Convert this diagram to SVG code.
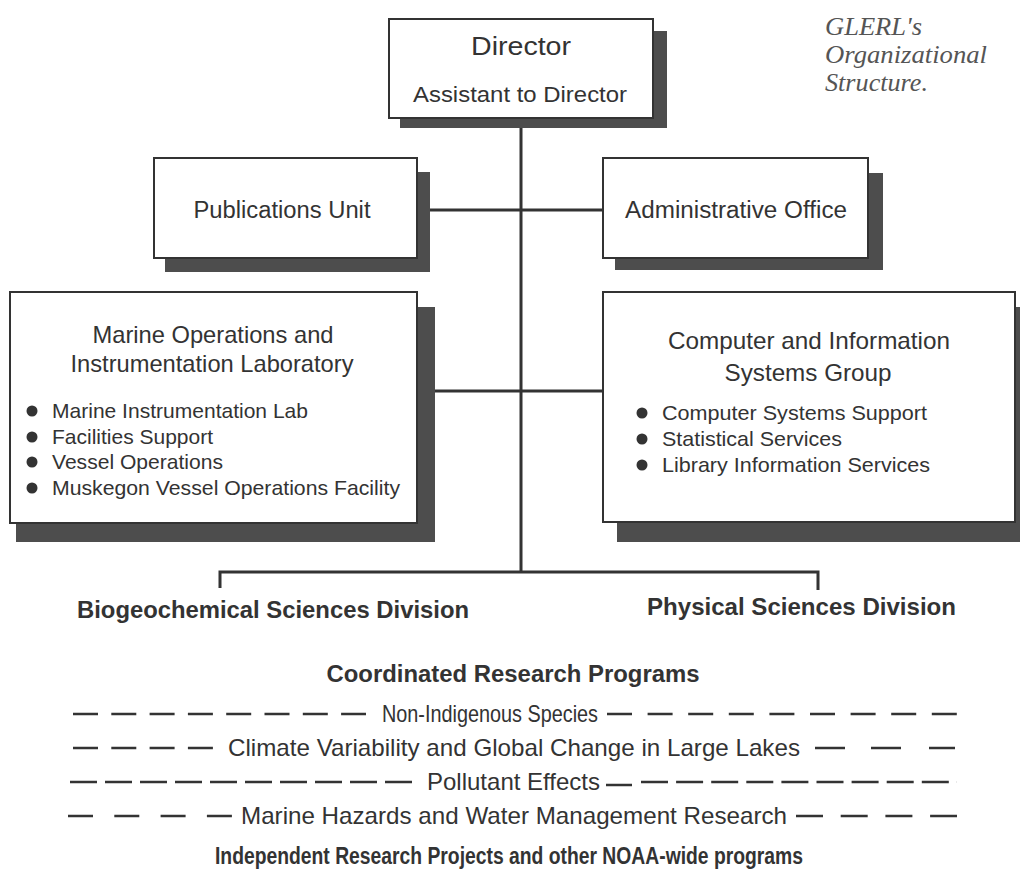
<svg xmlns="http://www.w3.org/2000/svg" width="1020" height="872" viewBox="0 0 1020 872">
<style>
.bg{fill:#ffffff}
.box{fill:#ffffff;stroke:#333333;stroke-width:2}
.sh{fill:#4d4d4d}
.t{font-family:"Liberation Sans",Arial,sans-serif;fill:#333333}
.c{text-anchor:middle}
.b{font-weight:bold}
.it{font-family:"Liberation Serif","Times New Roman",serif;font-style:italic;fill:#555555;font-size:25px}
.ln{stroke:#333333;stroke-width:3;fill:none}
.ds{stroke:#333333;stroke-width:2.5;fill:none}
.dot{fill:#333333}
</style>
<rect class="bg" x="0" y="0" width="1020" height="872"/>

<g id="connectors">
  <line class="ln" x1="521" y1="118" x2="521" y2="573"/>
  <line class="ln" x1="417" y1="210" x2="603" y2="210"/>
  <line class="ln" x1="417" y1="391" x2="603" y2="391"/>
  <path class="ln" d="M220,588 V572 H818 V590"/>
</g>

<g id="title">
  <text class="it" x="825" y="35" textLength="97" lengthAdjust="spacingAndGlyphs">GLERL's</text>
  <text class="it" x="825" y="63" textLength="162" lengthAdjust="spacingAndGlyphs">Organizational</text>
  <text class="it" x="825" y="91" textLength="103" lengthAdjust="spacingAndGlyphs">Structure.</text>
</g>

<g id="director">
  <rect class="sh" x="400" y="31" width="267" height="97"/>
  <rect class="box" x="389" y="19" width="264" height="99"/>
  <text class="t c" x="521" y="55" font-size="26" textLength="100" lengthAdjust="spacingAndGlyphs">Director</text>
  <text class="t c" x="520" y="102" font-size="22" textLength="214" lengthAdjust="spacingAndGlyphs">Assistant to Director</text>
</g>

<g id="publications">
  <rect class="sh" x="165" y="172" width="265" height="100"/>
  <rect class="box" x="154" y="158" width="263" height="100"/>
  <text class="t c" x="282" y="218" font-size="23" textLength="177" lengthAdjust="spacingAndGlyphs">Publications Unit</text>
</g>

<g id="admin">
  <rect class="sh" x="615" y="173" width="268" height="97"/>
  <rect class="box" x="603" y="158" width="265" height="100"/>
  <text class="t c" x="736" y="218" font-size="23" textLength="222" lengthAdjust="spacingAndGlyphs">Administrative Office</text>
</g>

<g id="marine">
  <rect class="sh" x="16" y="307" width="419" height="235"/>
  <rect class="box" x="10" y="292" width="407" height="231"/>
  <text class="t c" x="213" y="343" font-size="24" textLength="241" lengthAdjust="spacingAndGlyphs">Marine Operations and</text>
  <text class="t c" x="212" y="372" font-size="24" textLength="283" lengthAdjust="spacingAndGlyphs">Instrumentation Laboratory</text>
  <circle class="dot" cx="32" cy="411" r="5.5"/>
  <circle class="dot" cx="32" cy="437" r="5.5"/>
  <circle class="dot" cx="32" cy="462" r="5.5"/>
  <circle class="dot" cx="32" cy="488" r="5.5"/>
  <text class="t" x="52" y="418" font-size="21" textLength="256" lengthAdjust="spacingAndGlyphs">Marine Instrumentation Lab</text>
  <text class="t" x="52" y="444" font-size="21" textLength="161" lengthAdjust="spacingAndGlyphs">Facilities Support</text>
  <text class="t" x="52" y="469" font-size="21" textLength="171" lengthAdjust="spacingAndGlyphs">Vessel Operations</text>
  <text class="t" x="52" y="495" font-size="21" textLength="348" lengthAdjust="spacingAndGlyphs">Muskegon Vessel Operations Facility</text>
</g>

<g id="computer">
  <rect class="sh" x="617" y="307" width="403" height="235"/>
  <rect class="box" x="603" y="292" width="412" height="230"/>
  <text class="t c" x="809" y="349" font-size="24" textLength="282" lengthAdjust="spacingAndGlyphs">Computer and Information</text>
  <text class="t c" x="808" y="381" font-size="24" textLength="167" lengthAdjust="spacingAndGlyphs">Systems Group</text>
  <circle class="dot" cx="642" cy="413" r="5.5"/>
  <circle class="dot" cx="642" cy="439" r="5.5"/>
  <circle class="dot" cx="642" cy="465" r="5.5"/>
  <text class="t" x="662" y="420" font-size="21" textLength="265" lengthAdjust="spacingAndGlyphs">Computer Systems Support</text>
  <text class="t" x="662" y="446" font-size="21" textLength="180" lengthAdjust="spacingAndGlyphs">Statistical Services</text>
  <text class="t" x="662" y="472" font-size="21" textLength="268" lengthAdjust="spacingAndGlyphs">Library Information Services</text>
</g>

<g id="biogeochemical">
  <text class="t b" x="77" y="618" font-size="24" textLength="392" lengthAdjust="spacingAndGlyphs">Biogeochemical Sciences Division</text>
</g>
<g id="physical">
  <text class="t b" x="647" y="615" font-size="24" textLength="309" lengthAdjust="spacingAndGlyphs">Physical Sciences Division</text>
</g>

<g id="programs">
  <text class="t b c" x="513" y="682" font-size="23" textLength="373" lengthAdjust="spacingAndGlyphs">Coordinated Research Programs</text>

  <line class="ds" x1="73" y1="714" x2="366" y2="714" stroke-dasharray="25 13.3"/>
  <text class="t" x="382" y="722" font-size="24" textLength="216" lengthAdjust="spacingAndGlyphs">Non-Indigenous Species</text>
  <line class="ds" x1="607" y1="714" x2="957" y2="714" stroke-dasharray="25 15.6"/>

  <line class="ds" x1="73" y1="748" x2="213" y2="748" stroke-dasharray="25 13.3"/>
  <text class="t" x="228" y="756" font-size="24" textLength="572" lengthAdjust="spacingAndGlyphs">Climate Variability and Global Change in Large Lakes</text>
  <line class="ds" x1="815" y1="748" x2="845" y2="748"/>
  <line class="ds" x1="871" y1="748" x2="901" y2="748"/>
  <line class="ds" x1="929" y1="748" x2="955" y2="748"/>

  <line class="ds" x1="70" y1="782" x2="412" y2="782" stroke-dasharray="27 8"/>
  <text class="t" x="427" y="790" font-size="24" textLength="173" lengthAdjust="spacingAndGlyphs">Pollutant Effects</text>
  <line class="ds" x1="606" y1="785" x2="632" y2="785"/>
  <line class="ds" x1="641" y1="782" x2="957" y2="782" stroke-dasharray="27 8.1"/>

  <line class="ds" x1="68" y1="816" x2="232" y2="816" stroke-dasharray="25 21.3"/>
  <text class="t" x="241" y="824" font-size="24" textLength="546" lengthAdjust="spacingAndGlyphs">Marine Hazards and Water Management Research</text>
  <line class="ds" x1="796" y1="816" x2="957" y2="816" stroke-dasharray="27 17.7"/>

  <text class="t b c" x="509" y="864" font-size="23" textLength="588" lengthAdjust="spacingAndGlyphs">Independent Research Projects and other NOAA-wide programs</text>
</g>
</svg>
